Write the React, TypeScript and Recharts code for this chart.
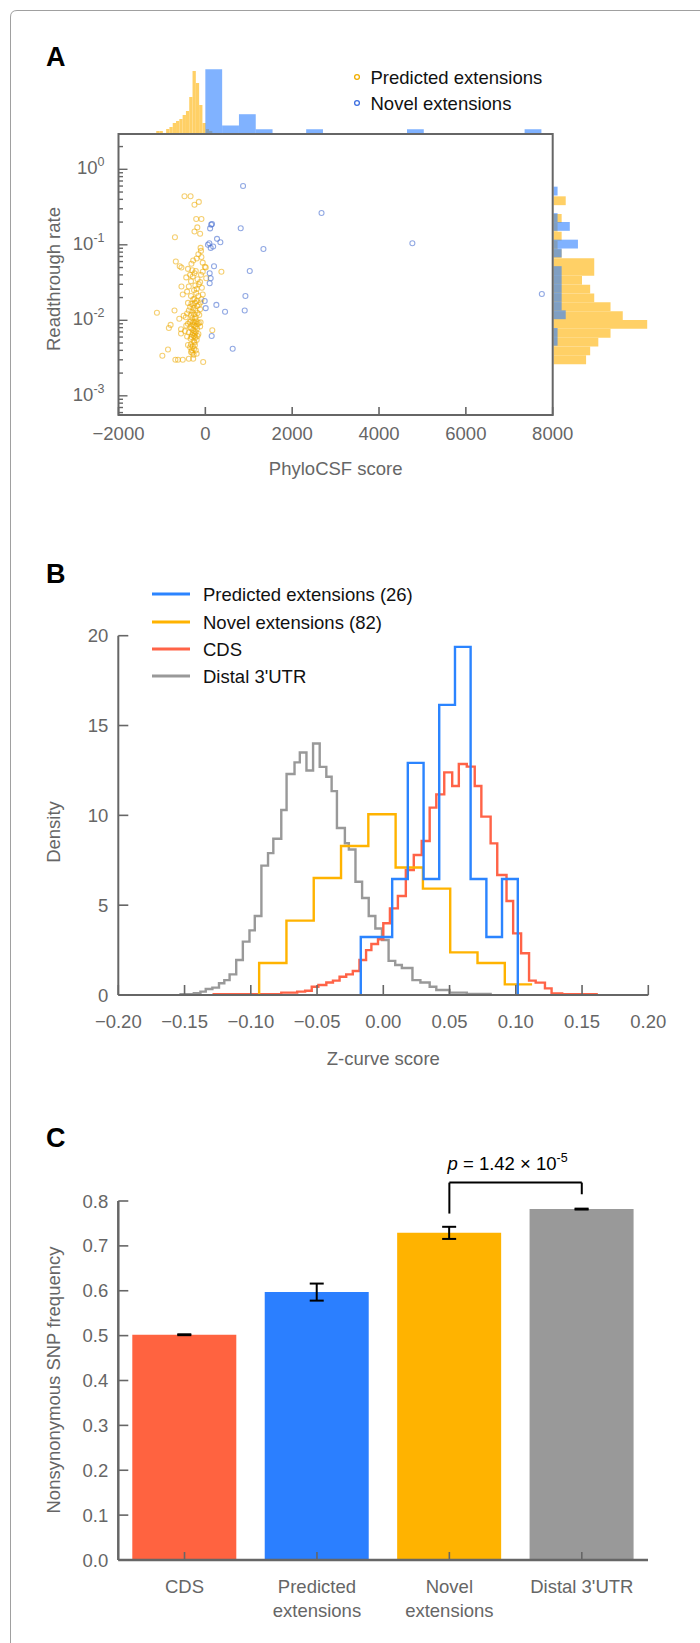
import React from "react";
import {
  ScatterChart,
  Scatter,
  ComposedChart,
  LineChart,
  Line,
  BarChart,
  Bar,
  Cell,
  ErrorBar,
  XAxis,
  YAxis,
  ReferenceArea,
  ReferenceLine,
} from "recharts";

const FONT = '"Liberation Sans", Arial, Helvetica, sans-serif';
const GREY = "#666666";
const FS = 18.5;

// ---------- Panel A: PhyloCSF score vs readthrough rate ----------
const predictedExt: [number, number][] = [
  [-480, 0.44], [-340, 0.44], [-150, 0.37], [-250, 0.34],
  [-210, 0.22], [-90, 0.22], [-185, 0.17], [-250, 0.15], [-700, 0.126], [-120, 0.14],
  [-110, 0.091], [-100, 0.083], [-90, 0.069], [-680, 0.06], [-590, 0.052], [-550, 0.05],
  [-320, 0.056], [-220, 0.045], [-10, 0.051], [10, 0.05], [370, 0.044], [-280, 0.062],
  [-160, 0.075], [-60, 0.058], [-200, 0.066], [-400, 0.048],
  [-250, 0.042], [-290, 0.038], [-180, 0.035], [-120, 0.032], [-550, 0.028], [-380, 0.028],
  [-520, 0.022], [-420, 0.024], [-150, 0.03], [-80, 0.027], [-330, 0.033], [-230, 0.029],
  [-200, 0.026], [-100, 0.04], [-300, 0.046], [20, 0.036], [-440, 0.037], [-60, 0.044],
  [-260, 0.025], [-350, 0.04],
  [-710, 0.0135], [-1115, 0.0126], [-330, 0.021], [-280, 0.019], [-240, 0.017], [-200, 0.018],
  [-150, 0.016], [-120, 0.014], [-300, 0.013], [-260, 0.012], [-220, 0.011], [-180, 0.0125],
  [-350, 0.015], [-400, 0.017], [-450, 0.011], [-500, 0.0115], [-600, 0.0105], [-90, 0.019],
  [-60, 0.022], [-380, 0.0135], [-320, 0.0165], [-270, 0.0145], [-230, 0.0135], [-190, 0.0155],
  [-140, 0.0118], [-420, 0.0123], [-240, 0.0105], [-300, 0.0108], [-160, 0.021], [-210, 0.023],
  [-330, 0.0118], [-280, 0.0158], [-250, 0.0192], [-110, 0.0172],
  [-800, 0.0087], [-840, 0.0079], [-560, 0.0076], [-560, 0.0067], [160, 0.0074], [-330, 0.0098],
  [-280, 0.0095], [-240, 0.0093], [-200, 0.0097], [-300, 0.0088], [-260, 0.0085], [-220, 0.0083],
  [-180, 0.0089], [-150, 0.0092], [-350, 0.0081], [-320, 0.0078], [-280, 0.0075], [-250, 0.0072],
  [-220, 0.007], [-190, 0.0078], [-400, 0.009], [-440, 0.0085], [-380, 0.0069], [-160, 0.0066],
  [-120, 0.0083], [-300, 0.0064], [-260, 0.0062], [-230, 0.0059], [-340, 0.0057], [-270, 0.0053],
  [-200, 0.0055], [-420, 0.0061], [-470, 0.0072], [-110, 0.0094], [-360, 0.0095], [-290, 0.0068],
  [-240, 0.0066], [-320, 0.006], [-180, 0.0062], [-250, 0.0051],
  [-860, 0.0041], [-990, 0.0034], [-690, 0.003], [-630, 0.003], [-520, 0.003], [-380, 0.0031],
  [-280, 0.0031], [-50, 0.0028], [-330, 0.0048], [-290, 0.0045], [-260, 0.0042], [-310, 0.004],
  [-350, 0.0044], [-240, 0.0047], [-300, 0.0037], [-270, 0.0035], [-330, 0.0038], [-200, 0.0036],
  [-400, 0.0047], [-220, 0.004],
];

const novelExt: [number, number][] = [
  [869, 0.6], [2676, 0.264], [4768, 0.105], [7750, 0.0223], [154, 0.189], [135, 0.185],
  [110, 0.165], [815, 0.166], [92, 0.105], [123, 0.091], [269, 0.12], [346, 0.108],
  [1338, 0.088], [200, 0.052], [1023, 0.045], [100, 0.042], [123, 0.036], [100, 0.031],
  [923, 0.021], [-15, 0.018], [254, 0.016], [907, 0.0135], [454, 0.013], [8, 0.0145],
  [146, 0.0062], [630, 0.0042], [60, 0.1], [180, 0.095],
];

const phyloTicks = [-2000, 0, 2000, 4000, 6000, 8000];
const phyloDomain = [-2000, 8000];
const logRateDomain = [-3.254, 0.4675];
const rateDecades = [-4, -3, -2, -1, 0];

// top marginal histogram (PhyloCSF score bins)
const topPredStart = [-1131, -1055, -979, -903, -827, -751, -675, -599, -523, -447, -371, -295, -219, -143, -67, 9, 85];
const topPredCount = [1, 1, 0, 2, 3, 5, 6, 7, 9, 11, 18, 31, 25, 14, 5, 2, 1];
const topPredWidth = 76;
const topNovelStart = [0, 387, 774, 1161, 2322, 4644, 7353];
const topNovelCount = [17, 2, 5, 1, 1, 1, 1];
const topNovelWidth = 387;

// right marginal histogram (log10 readthrough rate, upper bin edges)
const rightPredTop = [-0.358, -0.475, -0.592, -0.709, -0.826, -0.943, -1.06, -1.177, -1.294, -1.411, -1.528, -1.645, -1.762, -1.879, -1.996, -2.113, -2.23, -2.347, -2.464];
const rightPredCount = [3, 0, 2, 1, 2, 1, 2, 10, 10, 7, 9, 10, 14, 17, 23, 14, 11, 9, 8];
const rightNovelTop = [-0.23, -0.347, -0.464, -0.581, -0.698, -0.815, -0.932, -1.049, -1.166, -1.283, -1.4, -1.517, -1.634, -1.751, -1.868, -1.985, -2.102, -2.219];
const rightNovelCount = [1, 0, 0, 1, 4, 0, 6, 2, 0, 2, 2, 2, 2, 2, 3, 0, 1, 1];
const rightBinWidth = 0.117;

// ---------- Panel B: Z-curve score histograms ----------
const zTicks = [-0.2, -0.15, -0.1, -0.05, 0, 0.05, 0.1, 0.15, 0.2];
const densityTicks = [0, 5, 10, 15, 20];

const predZEdges = [-0.017, -0.0052, 0.0067, 0.0185, 0.0304, 0.0422, 0.0541, 0.0659, 0.0778, 0.0896, 0.1015];
const predZDensity = [3.23, 3.23, 6.46, 12.92, 6.46, 16.15, 19.38, 6.46, 3.23, 6.46];

const novelZEdges = [-0.0937, -0.0731, -0.0525, -0.0319, -0.0113, 0.0093, 0.0299, 0.0505, 0.0711, 0.0917, 0.1123];
const novelZDensity = [1.78, 4.14, 6.51, 8.29, 10.06, 7.1, 5.92, 2.37, 1.78, 0.59];

const cdsZEdges = [-0.128, -0.099, -0.077, -0.065, -0.059, -0.054, -0.049, -0.043, -0.038, -0.033, -0.028, -0.023, -0.018, -0.013, -0.009, -0.004, 0.0, 0.005, 0.011, 0.017, 0.023, 0.029, 0.035, 0.04, 0.046, 0.052, 0.057, 0.063, 0.069, 0.074, 0.081, 0.086, 0.093, 0.098, 0.104, 0.11, 0.115, 0.122, 0.127, 0.135, 0.161];
const cdsZDensity = [0.04, 0.05, 0.13, 0.19, 0.24, 0.46, 0.56, 0.7, 0.8, 1.02, 1.15, 1.34, 1.95, 2.5, 2.84, 3.1, 3.99, 4.82, 5.51, 6.96, 7.79, 8.57, 10.43, 11.17, 12.39, 11.63, 12.86, 12.71, 11.63, 9.93, 8.44, 6.68, 5.23, 3.43, 2.32, 0.8, 0.69, 0.37, 0.09, 0.04];

const utrZEdges = [-0.153, -0.143, -0.138, -0.134, -0.129, -0.124, -0.12, -0.116, -0.111, -0.106, -0.101, -0.097, -0.092, -0.087, -0.083, -0.077, -0.073, -0.067, -0.063, -0.058, -0.053, -0.048, -0.043, -0.039, -0.035, -0.029, -0.026, -0.021, -0.016, -0.011, -0.006, -0.001, 0.004, 0.009, 0.014, 0.022, 0.028, 0.035, 0.04, 0.05, 0.063, 0.081];
const utrZDensity = [0.05, 0.1, 0.19, 0.33, 0.41, 0.65, 0.83, 1.15, 1.95, 2.97, 3.6, 4.4, 7.2, 7.9, 8.7, 10.3, 12.3, 12.95, 13.5, 12.5, 14.0, 12.7, 12.15, 11.35, 9.3, 8.45, 8.1, 6.3, 5.4, 4.4, 3.7, 3.06, 1.9, 1.67, 1.5, 0.83, 0.7, 0.46, 0.28, 0.13, 0.06];

// ---------- Panel C: nonsynonymous SNP frequency ----------
const snpCategories = ["CDS", "Predicted extensions", "Novel extensions", "Distal 3'UTR"];
const snpFrequency = [0.502, 0.597, 0.729, 0.782];
const snpError = [0.001, 0.019, 0.0135, 0.001];
const snpColors = ["#FF6340", "#2B7FFF", "#FFB300", "#999999"];
const freqTicks = [0, 0.1, 0.2, 0.3, 0.4, 0.5, 0.6, 0.7, 0.8];
const bracketTop = 0.841;
const bracketLeftEnd = 0.772;
const bracketRightEnd = 0.815;

// ---------- helpers ----------
const minus = (s: string) => s.replace("-", "\u2212");

const logTicks: number[] = [];
rateDecades.forEach((d) => {
  for (let m = 1; m <= 9; m++) {
    const v = m * Math.pow(10, d);
    const lv = Math.log10(v);
    if (lv >= logRateDomain[0] && lv <= logRateDomain[1]) logTicks.push(v);
  }
});

const stepData = (edges: number[], dens: number[], drop: boolean) => {
  const pts = [{ x: edges[0], y: 0 }];
  dens.forEach((d, i) => pts.push({ x: edges[i], y: d }));
  pts.push({ x: edges[edges.length - 1], y: drop ? 0 : dens[dens.length - 1] });
  return pts;
};

const PhyloTick = (props: any) => {
  const { x, y, payload } = props;
  return (
    <g>
      <line x1={x} x2={x} y1={y} y2={y - 8} stroke={GREY} strokeWidth={1.6} />
      <text x={x} y={y + 24.6} textAnchor="middle" fontSize={FS} fill={GREY} fontFamily={FONT}>
        {minus(String(payload.value))}
      </text>
    </g>
  );
};

const RateTick = (props: any) => {
  const { x, y, payload } = props;
  const e = Math.log10(payload.value);
  const k = Math.round(e);
  const major = Math.abs(e - k) < 1e-6;
  return (
    <g>
      <line x1={x} x2={x + (major ? 9 : 4.5)} y1={y} y2={y} stroke={GREY} strokeWidth={1.4} />
      {major && (
        <text x={x - 14} y={y + 5} textAnchor="end" fontSize={FS} fill={GREY} fontFamily={FONT}>
          10
          <tspan dy={-8} fontSize={12.5}>
            {String(k)}
          </tspan>
        </text>
      )}
    </g>
  );
};

const ZTick = (props: any) => {
  const { x, y, payload } = props;
  return (
    <g>
      <line x1={x} x2={x} y1={y} y2={y - 10} stroke={GREY} strokeWidth={1.6} />
      <text x={x} y={y + 33.3} textAnchor="middle" fontSize={FS} fill={GREY} fontFamily={FONT}>
        {minus((payload.value as number).toFixed(2))}
      </text>
    </g>
  );
};

const LeftTick = (digits: number) => (props: any) => {
  const { x, y, payload } = props;
  return (
    <g>
      <line x1={x} x2={x + 10} y1={y} y2={y} stroke={GREY} strokeWidth={1.6} />
      <text x={x - 10} y={y + 6.6} textAnchor="end" fontSize={FS} fill={GREY} fontFamily={FONT}>
        {(payload.value as number).toFixed(digits)}
      </text>
    </g>
  );
};
const DensityTick = LeftTick(0);
const FreqTick = LeftTick(1);

const CategoryTick = (props: any) => {
  const { x, y, payload } = props;
  const name = String(payload.value);
  const lines = name.endsWith(" extensions") ? [name.replace(" extensions", ""), "extensions"] : [name];
  return (
    <g>
      <line x1={x} x2={x} y1={y} y2={y - 8} stroke={GREY} strokeWidth={1.6} />
      {lines.map((l, i) => (
        <text key={i} x={x} y={y + 33.3 + i * 23.3} textAnchor="middle" fontSize={FS} fill={GREY} fontFamily={FONT}>
          {l}
        </text>
      ))}
    </g>
  );
};

const ring = (color: string, opacity: number) => (props: any) => (
  <circle cx={props.cx} cy={props.cy} r={2.5} fill="none" stroke={color} strokeOpacity={opacity} strokeWidth={1.1} />
);

const ORANGE_HIST = "#FFD066";
const BLUE_HIST = "rgb(43,127,255)";

export default function App() {
  const predPts = predictedExt.map(([x, y]) => ({ x, y }));
  const novelPts = novelExt.map(([x, y]) => ({ x, y }));
  const snpData = snpCategories.map((name, i) => ({ name, value: snpFrequency[i], err: snpError[i] }));

  return (
    <div style={{ position: "absolute", left: 0, top: 0, width: 700, height: 1643, background: "#fff", fontFamily: FONT }}>
      {/* Panel A: top marginal histogram */}
      <div style={{ position: "absolute", left: 0, top: 0 }}>
        <ComposedChart width={700} height={133} margin={{ top: 0, right: 147.3, bottom: 0, left: 118.5 }} data={predPts}>
          <XAxis xAxisId="p" type="number" dataKey="x" domain={phyloDomain} hide allowDataOverflow />
          <YAxis yAxisId="o" type="number" domain={[0, 66.5]} hide allowDataOverflow />
          <YAxis yAxisId="n" type="number" domain={[0, 35.4]} hide allowDataOverflow />
          {topPredStart.map((s, i) =>
            topPredCount[i] > 0 ? (
              <ReferenceArea key={`to${i}`} xAxisId="p" yAxisId="o" x1={s} x2={s + topPredWidth} y1={0} y2={topPredCount[i]}
                fill={ORANGE_HIST} fillOpacity={1} stroke="none" ifOverflow="visible" />
            ) : null
          )}
          {topNovelStart.map((s, i) => (
            <ReferenceArea key={`tn${i}`} xAxisId="p" yAxisId="n" x1={s} x2={s + topNovelWidth} y1={0} y2={topNovelCount[i]}
              fill={BLUE_HIST} fillOpacity={0.6} stroke="none" ifOverflow="visible" />
          ))}
        </ComposedChart>
      </div>

      {/* Panel A: right marginal histogram */}
      <div style={{ position: "absolute", left: 0, top: 0 }}>
        <ComposedChart width={700} height={520} margin={{ top: 134, right: 36.5, bottom: 105, left: 553.5 }} data={novelPts}>
          <YAxis yAxisId="r" type="number" domain={logRateDomain} hide allowDataOverflow />
          <XAxis xAxisId="o" type="number" domain={[0, 25.6]} hide allowDataOverflow />
          <XAxis xAxisId="n" type="number" domain={[0, 6.75]} hide allowDataOverflow />
          {rightPredTop.map((t, i) =>
            rightPredCount[i] > 0 ? (
              <ReferenceArea key={`ro${i}`} xAxisId="o" yAxisId="r" x1={0} x2={rightPredCount[i]} y1={t - rightBinWidth} y2={t}
                fill={ORANGE_HIST} fillOpacity={1} stroke="none" ifOverflow="visible" />
            ) : null
          )}
          {rightNovelTop.map((t, i) =>
            rightNovelCount[i] > 0 ? (
              <ReferenceArea key={`rn${i}`} xAxisId="n" yAxisId="r" x1={0} x2={rightNovelCount[i]} y1={t - rightBinWidth} y2={t}
                fill={BLUE_HIST} fillOpacity={0.6} stroke="none" ifOverflow="visible" />
            ) : null
          )}
        </ComposedChart>
      </div>

      {/* Panel A: scatter */}
      <div style={{ position: "absolute", left: 0, top: 0 }}>
        <ScatterChart width={700} height={520} margin={{ top: 134, right: 147.3, bottom: 45, left: 38.5 }}>
          <XAxis type="number" dataKey="x" domain={phyloDomain} ticks={phyloTicks} interval={0} height={60}
            axisLine={false} tickLine={false} tickSize={0} tickMargin={0} tick={<PhyloTick />} allowDataOverflow />
          <YAxis type="number" dataKey="y" scale="log" domain={[Math.pow(10, logRateDomain[0]), Math.pow(10, logRateDomain[1])]}
            ticks={logTicks} interval={0} width={80} axisLine={false} tickLine={false} tickSize={0} tickMargin={0}
            tick={<RateTick />} allowDataOverflow />
          <ReferenceArea x1={phyloDomain[0]} x2={phyloDomain[1]} y1={Math.pow(10, logRateDomain[0])} y2={Math.pow(10, logRateDomain[1])}
            fill="none" stroke={GREY} strokeWidth={2} ifOverflow="visible" />
          <Scatter data={predPts} shape={ring("#EDAA00", 0.55)} isAnimationActive={false} />
          <Scatter data={novelPts} shape={ring("#4A6FD0", 0.6)} isAnimationActive={false} />
        </ScatterChart>
      </div>

      {/* Panel B: Z-curve score */}
      <div style={{ position: "absolute", left: 0, top: 600 }}>
        <LineChart width={700} height={460} margin={{ top: 35.7, right: 51.7, bottom: 5, left: 38.3 }}>
          <XAxis type="number" dataKey="x" domain={[-0.2, 0.2]} ticks={zTicks} interval={0} height={60}
            axisLine={{ stroke: GREY, strokeWidth: 2 }} tickLine={false} tickSize={0} tickMargin={0} tick={<ZTick />} allowDataOverflow />
          <YAxis type="number" domain={[0, 20]} ticks={densityTicks} interval={0} width={80}
            axisLine={{ stroke: GREY, strokeWidth: 2 }} tickLine={false} tickSize={0} tickMargin={0} tick={<DensityTick />} allowDataOverflow />
          <Line data={stepData(utrZEdges, utrZDensity, true)} dataKey="y" type="stepAfter" stroke="#999999" strokeWidth={2.4} dot={false} isAnimationActive={false} />
          <Line data={stepData(cdsZEdges, cdsZDensity, true)} dataKey="y" type="stepAfter" stroke="#FF6347" strokeWidth={2.4} dot={false} isAnimationActive={false} />
          <Line data={stepData(novelZEdges, novelZDensity, false)} dataKey="y" type="stepAfter" stroke="#FFB300" strokeWidth={2.4} dot={false} isAnimationActive={false} />
          <Line data={stepData(predZEdges, predZDensity, true)} dataKey="y" type="stepAfter" stroke="#2B84FF" strokeWidth={2.4} dot={false} isAnimationActive={false} />
        </LineChart>
      </div>

      {/* Panel C: SNP frequency */}
      <div style={{ position: "absolute", left: 0, top: 1100 }}>
        <BarChart width={700} height={543} data={snpData} margin={{ top: 101, right: 52, bottom: 13, left: 38.3 }}>
          <XAxis dataKey="name" type="category" height={70} interval={0}
            axisLine={{ stroke: GREY, strokeWidth: 2.5 }} tickLine={false} tickSize={0} tickMargin={0} tick={<CategoryTick />} />
          <YAxis type="number" domain={[0, 0.8]} ticks={freqTicks} interval={0} width={80}
            axisLine={{ stroke: GREY, strokeWidth: 2.5 }} tickLine={false} tickSize={0} tickMargin={0} tick={<FreqTick />} allowDataOverflow />
          <Bar dataKey="value" barSize={104} isAnimationActive={false}>
            {snpData.map((d, i) => (
              <Cell key={d.name} fill={snpColors[i]} />
            ))}
            <ErrorBar dataKey="err" width={7} stroke="#000" strokeWidth={2} direction="y" />
          </Bar>
          <ReferenceLine segment={[{ x: snpCategories[2], y: bracketTop }, { x: snpCategories[3], y: bracketTop }]} stroke="#000" strokeWidth={2} ifOverflow="visible" />
          <ReferenceLine segment={[{ x: snpCategories[2], y: bracketTop }, { x: snpCategories[2], y: bracketLeftEnd }]} stroke="#000" strokeWidth={2} ifOverflow="visible" />
          <ReferenceLine segment={[{ x: snpCategories[3], y: bracketTop }, { x: snpCategories[3], y: bracketRightEnd }]} stroke="#000" strokeWidth={2} ifOverflow="visible" />
        </BarChart>
      </div>

      {/* annotations: frame, panel letters, titles, legends */}
      <svg width={700} height={1643} style={{ position: "absolute", left: 0, top: 0, pointerEvents: "none" }} fontFamily={FONT}>
        <path d="M10.5 1643 V17 Q10.5 10.5 17 10.5 H700" fill="none" stroke="#a0a0a0" strokeWidth={1} />

        <text x={46} y={65.5} fontSize={27} fontWeight="bold" fill="#000">A</text>
        <text x={46} y={583} fontSize={27} fontWeight="bold" fill="#000">B</text>
        <text x={46} y={1147} fontSize={27} fontWeight="bold" fill="#000">C</text>

        {/* Panel A legend */}
        <circle cx={357} cy={77} r={2.4} fill="none" stroke="#F0AE00" strokeWidth={1.3} />
        <text x={370.5} y={83.6} fontSize={FS} fill="#111">Predicted extensions</text>
        <circle cx={357} cy={103} r={2.4} fill="none" stroke="#3D6FE0" strokeWidth={1.3} />
        <text x={370.5} y={109.6} fontSize={FS} fill="#111">Novel extensions</text>

        <text x={53} y={279} fontSize={FS} fill={GREY} textAnchor="middle" dominantBaseline="central" transform="rotate(-90 53 279)">Readthrough rate</text>
        <text x={335.7} y={474.6} fontSize={FS} fill={GREY} textAnchor="middle">PhyloCSF score</text>

        {/* Panel B legend */}
        {[
          ["Predicted extensions (26)", "#2B84FF", 594],
          ["Novel extensions (82)", "#FFB300", 622],
          ["CDS", "#FF6347", 649],
          ["Distal 3'UTR", "#999999", 676],
        ].map(([label, color, yy]) => (
          <g key={label as string}>
            <line x1={152} x2={190} y1={yy as number} y2={yy as number} stroke={color as string} strokeWidth={3} />
            <text x={203} y={(yy as number) + 6.6} fontSize={FS} fill="#111">{label}</text>
          </g>
        ))}
        <text x={53} y={832} fontSize={FS} fill={GREY} textAnchor="middle" dominantBaseline="central" transform="rotate(-90 53 832)">Density</text>
        <text x={383.3} y={1064.6} fontSize={FS} fill={GREY} textAnchor="middle">Z-curve score</text>

        {/* Panel C */}
        <text x={53} y={1380} fontSize={FS} fill={GREY} textAnchor="middle" dominantBaseline="central" transform="rotate(-90 53 1380)">Nonsynonymous SNP frequency</text>
        <text x={507.6} y={1169.6} fontSize={FS} fill="#000" textAnchor="middle">
          <tspan fontStyle="italic">p</tspan> = 1.42 × 10<tspan dy={-8} fontSize={12.5}>-5</tspan>
        </text>
      </svg>
    </div>
  );
}
